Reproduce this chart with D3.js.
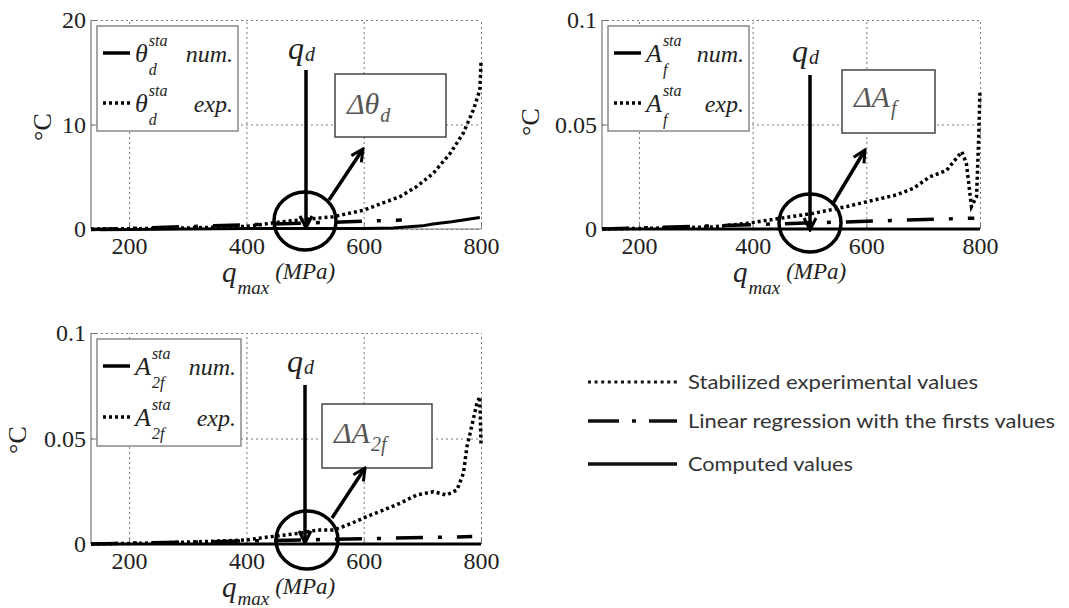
<!DOCTYPE html>
<html>
<head>
<meta charset="utf-8">
<script src="https://cdn.jsdelivr.net/npm/d3@7"></script>
<style>
body { margin: 0; background: #fff; }
</style>
</head>
<body>
<div id="chart"></div>
<script>
// data
var qTicks = [200, 400, 600, 800]
var thetaTicks = [0, 10, 20]
var ampTicks = [0, 0.05, 0.1]

var thetaExpQ = [135, 200, 300, 400, 462, 548, 600, 633, 662, 690, 718, 747, 770, 787, 798, 800]
var thetaExp  = [0, 0.02, 0.1, 0.25, 0.7, 1.18, 1.8, 2.5, 3.1, 4.05, 5.3, 7.2, 9.2, 11.4, 13.3, 15.9]
var thetaNumQ = [150, 200, 300, 400, 500, 600, 650, 700, 718, 750, 798]
var thetaNum  = [-0.08, -0.05, 0, 0.05, 0.05, 0.05, 0.1, 0.3, 0.48, 0.7, 1.1]
var thetaRegQ = [135, 665]
var thetaReg  = [-0.05, 0.85]

var afExpQ = [135, 250, 330, 390, 448, 507, 565, 600, 653, 683, 712, 741, 768, 776, 785, 794, 798, 800]
var afExp  = [0, 0.0005, 0.001, 0.0027, 0.0051, 0.0075, 0.0107, 0.013, 0.0163, 0.0195, 0.025, 0.028, 0.037, 0.0315, 0.0107, 0.0155, 0.046, 0.0665]
var afNumQ = [135, 300, 500, 800]
var afNum  = [0, 0, 0, 0]
var afRegQ = [135, 790]
var afReg  = [0, 0.0052]

var a2fExpQ = [135, 250, 321, 400, 434, 491, 520, 548, 577, 605, 633, 662, 690, 719, 741, 759, 770, 776, 784, 793, 798, 800]
var a2fExp  = [0, 0.0005, 0.0011, 0.0019, 0.0032, 0.0051, 0.0066, 0.0066, 0.0095, 0.013, 0.016, 0.0193, 0.0232, 0.0248, 0.0232, 0.0256, 0.0335, 0.046, 0.0556, 0.0667, 0.0698, 0.0477]
var a2fNumQ = [135, 300, 500, 800]
var a2fNum  = [0, 0, 0, 0]
var a2fRegQ = [135, 785]
var a2fReg  = [0, 0.0035]

var legendLabels = ["Stabilized experimental values", "Linear regression with the firsts values", "Computed values"]

// pick the first serif-ish family that is really installed
function hasFont(name) {
    var c = document.createElement("canvas").getContext("2d")
    var s = "mmmmmmmmmmlli 0123456789"
    return ["monospace", "sans-serif"].some(function (base) {
        c.font = "32px " + base
        var w0 = c.measureText(s).width
        c.font = "32px '" + name + "', " + base
        return c.measureText(s).width !== w0
    })
}
var fam = ["Liberation Serif", "DejaVu Serif", "Tinos", "Times New Roman", "Noto Serif",
           "Liberation Sans", "Noto Sans"].filter(hasFont)[0] || "sans-serif"
var SERIF = "'" + fam + "', serif"

function pts(q, v) {
    return q.map(function (d, i) { return {q: d, v: v[i]} })
}

var W = 1069, H = 608
var svg = d3.select("#chart").append("svg")
    .attr("width", W).attr("height", H)

// arrow head
svg.append("defs").append("marker")
    .attr("id", "head")
    .attr("viewBox", "-14 -8 16 16")
    .attr("markerWidth", 16).attr("markerHeight", 16)
    .attr("markerUnits", "userSpaceOnUse")
    .attr("orient", "auto")
    .append("path")
    .attr("d", "M-12,-6 L0,0 L-12,6")
    .attr("fill", "none").attr("stroke", "#000").attr("stroke-width", 3)

var DOT = "3,3"
var DASHDOT = "27,15,4,15"

function itext(g, x, y, size, str) {
    return g.append("text").attr("x", x).attr("y", y).attr("font-size", size)
        .attr("font-style", "italic").attr("fill", "#222")
        .style("font-family", SERIF).text(str)
}
function wid(t) { return t.node().getComputedTextLength() }

function panel(o) {
    var g = svg.append("g")
    var x = d3.scaleLinear().domain([135, 800]).range([o.left, o.right])
    var y = d3.scaleLinear().domain(o.ydom).range([o.bottom, o.top])

    // grid
    g.append("g").attr("transform", "translate(0," + o.bottom + ")")
        .call(d3.axisBottom(x).tickValues(qTicks).tickSize(-(o.bottom - o.top)).tickFormat(""))
        .call(function (s) { s.select(".domain").remove() })
        .selectAll("line").attr("stroke", "#777").attr("stroke-dasharray", "2,3")
    g.append("g").attr("transform", "translate(" + o.left + ",0)")
        .call(d3.axisLeft(y).tickValues(o.yticks).tickSize(-(o.right - o.left)).tickFormat(""))
        .call(function (s) { s.select(".domain").remove() })
        .selectAll("line").attr("stroke", "#777").attr("stroke-dasharray", "2,3")

    // frame
    g.append("line").attr("x1", o.left).attr("x2", o.left).attr("y1", o.top).attr("y2", o.bottom)
        .attr("stroke", "#777").attr("stroke-width", 1.2)
    g.append("line").attr("x1", o.left).attr("x2", o.right).attr("y1", o.bottom).attr("y2", o.bottom)
        .attr("stroke", "#777").attr("stroke-width", 1.2)

    // tick labels
    var ax = g.append("g").attr("transform", "translate(0," + o.bottom + ")")
        .call(d3.axisBottom(x).tickValues(qTicks).tickSize(-5).tickPadding(8))
    var ay = g.append("g").attr("transform", "translate(" + o.left + ",0)")
        .call(d3.axisLeft(y).tickValues(o.yticks).tickSize(-5).tickPadding(5).tickFormat(o.fmt))
    ;[ax, ay].forEach(function (a) {
        a.attr("font-family", null)
        a.select(".domain").remove()
        a.selectAll("line").attr("stroke", "#777")
        a.selectAll("text").attr("font-size", 24).attr("fill", "#222")
            .style("font-family", SERIF)
    })

    // curves
    var line = d3.line().x(function (d) { return x(d.q) }).y(function (d) { return y(d.v) })
    g.append("path").datum(pts(o.numQ, o.num)).attr("d", line)
        .attr("fill", "none").attr("stroke", "#000").attr("stroke-width", 3)
    g.append("path").datum(pts(o.regQ, o.reg)).attr("d", line)
        .attr("fill", "none").attr("stroke", "#000").attr("stroke-width", 3.5)
        .attr("stroke-dasharray", DASHDOT)
    g.append("path").datum(pts(o.expQ, o.exp)).attr("d", line)
        .attr("fill", "none").attr("stroke", "#000").attr("stroke-width", 3.5)
        .attr("stroke-dasharray", DOT)

    // inner legend
    var L = o.leg
    g.append("rect").attr("x", L.x).attr("y", L.y).attr("width", L.w).attr("height", L.h)
        .attr("fill", "#fff").attr("stroke", "#888").attr("stroke-width", 1.5)
    var rows = [{dash: null, word: "num.", ry: L.r1}, {dash: DOT, word: "exp.", ry: L.r2}]
    rows.forEach(function (r) {
        g.append("line").attr("x1", L.x + 6).attr("x2", L.x + 33).attr("y1", r.ry).attr("y2", r.ry)
            .attr("stroke", "#000").attr("stroke-width", 3.5)
            .attr("stroke-dasharray", r.dash)
        var bx = L.x + 38, by = r.ry + 9
        var m = itext(g, bx, by, 26, o.sym)
        var mw = wid(m)
        itext(g, bx + mw + 1, by - 16, 16, "sta")
        itext(g, bx + mw + 1, by + 13, 16, o.sub)
        var wd = itext(g, 0, by, 24, r.word)
        wd.attr("x", L.x + L.w - 5 - wid(wd))
    })

    // annotation box
    var B = o.box
    g.append("rect").attr("x", B.x).attr("y", B.y).attr("width", B.w).attr("height", B.h)
        .attr("fill", "#fff").attr("stroke", "#444").attr("stroke-width", 1.5)
    var bt = itext(g, B.tx, B.ty, 30, "\u0394" + o.sym).attr("fill", "#555")
    itext(g, B.tx + wid(bt) + 1, B.ty + 8, 20, o.sub).attr("fill", "#555")

    // q_d marker
    var Q = o.qd
    var qt = itext(g, Q.x - 18, Q.ty, 32, "q")
    itext(g, Q.x - 18 + wid(qt) + 1, Q.ty + 2, 20, "d")
    g.append("line").attr("x1", Q.x).attr("x2", Q.x).attr("y1", Q.y1).attr("y2", Q.y2)
        .attr("stroke", "#000").attr("stroke-width", 3.5).attr("marker-end", "url(#head)")
    g.append("ellipse").attr("cx", Q.cx).attr("cy", Q.cy).attr("rx", 31).attr("ry", 29)
        .attr("fill", "none").attr("stroke", "#000").attr("stroke-width", 3.5)
    g.append("line").attr("x1", Q.ax1).attr("y1", Q.ay1).attr("x2", Q.ax2).attr("y2", Q.ay2)
        .attr("stroke", "#000").attr("stroke-width", 3.5).attr("marker-end", "url(#head)")

    // axis titles
    var xb = o.bottom, sh = o.left - 91
    var xq = itext(g, 222 + sh, xb + 53, 29, "q")
    var xm = itext(g, 222 + sh + wid(xq) + 1, Math.min(xb + 65, H - 3), 19, "max")
    itext(g, 222 + sh + wid(xq) + wid(xm) + 7, xb + 50, 23, "(MPa)")
    g.append("text").attr("transform", "translate(" + o.ylx + "," + o.yly + ") rotate(-90)")
        .attr("text-anchor", "middle").attr("dominant-baseline", "central")
        .style("font-family", SERIF).attr("fill", "#222")
        .attr("font-size", 26).text("\u00b0C")
}

panel({
    left: 91, right: 481, top: 20, bottom: 229,
    ydom: [0, 20], yticks: thetaTicks, fmt: d3.format("d"),
    expQ: thetaExpQ, exp: thetaExp, numQ: thetaNumQ, num: thetaNum, regQ: thetaRegQ, reg: thetaReg,
    sym: "\u03b8", sub: "d",
    leg: {x: 97, y: 26, w: 141, h: 105, r1: 53, r2: 103},
    box: {x: 335, y: 74, w: 111, h: 63, tx: 347, ty: 114},
    qd: {x: 306, ty: 59, y1: 70, y2: 228, cx: 305, cy: 221, ax1: 329, ay1: 200, ax2: 363, ay2: 149},
    ylx: 42, yly: 127
})

panel({
    left: 602, right: 980, top: 20, bottom: 229,
    ydom: [0, 0.1], yticks: ampTicks, fmt: function (d) { return d === 0 ? "0" : String(d) },
    expQ: afExpQ, exp: afExp, numQ: afNumQ, num: afNum, regQ: afRegQ, reg: afReg,
    sym: "A", sub: "f",
    leg: {x: 608, y: 26, w: 141, h: 105, r1: 53, r2: 103},
    box: {x: 842, y: 70, w: 93, h: 63, tx: 854, ty: 107},
    qd: {x: 810, ty: 62, y1: 75, y2: 230, cx: 810, cy: 223, ax1: 832, ay1: 205, ax2: 865, ay2: 150},
    ylx: 530, yly: 122
})

panel({
    left: 91, right: 481, top: 333, bottom: 544,
    ydom: [0, 0.1], yticks: ampTicks, fmt: function (d) { return d === 0 ? "0" : String(d) },
    expQ: a2fExpQ, exp: a2fExp, numQ: a2fNumQ, num: a2fNum, regQ: a2fRegQ, reg: a2fReg,
    sym: "A", sub: "2f",
    leg: {x: 97, y: 339, w: 144, h: 107, r1: 366, r2: 417},
    box: {x: 322, y: 404, w: 110, h: 64, tx: 334, ty: 443},
    qd: {x: 305, ty: 372, y1: 385, y2: 543, cx: 307, cy: 540, ax1: 332, ay1: 518, ax2: 365, ay2: 468},
    ylx: 17, yly: 440
})

// shared legend
var lg = svg.append("g")
var legRows = [
    {y: 382, dash: "3,3.6", w: 3},
    {y: 421, dash: "31,13,4,13,28", w: 3.5},
    {y: 464, dash: null, w: 3.5}
]
var legWidths = [290, 367, 165]
legRows.forEach(function (r, i) {
    lg.append("line").attr("x1", 588).attr("x2", 677).attr("y1", r.y).attr("y2", r.y)
        .attr("stroke", "#111").attr("stroke-width", r.w).attr("stroke-dasharray", r.dash)
    lg.append("text").attr("x", 688).attr("y", r.y + 7)
        .style("font-family", "Lato, 'Open Sans', sans-serif")
        .attr("font-size", 20).attr("fill", "#333")
        .attr("textLength", legWidths[i]).attr("lengthAdjust", "spacingAndGlyphs")
        .text(legendLabels[i])
})
</script>
</body>
</html>
